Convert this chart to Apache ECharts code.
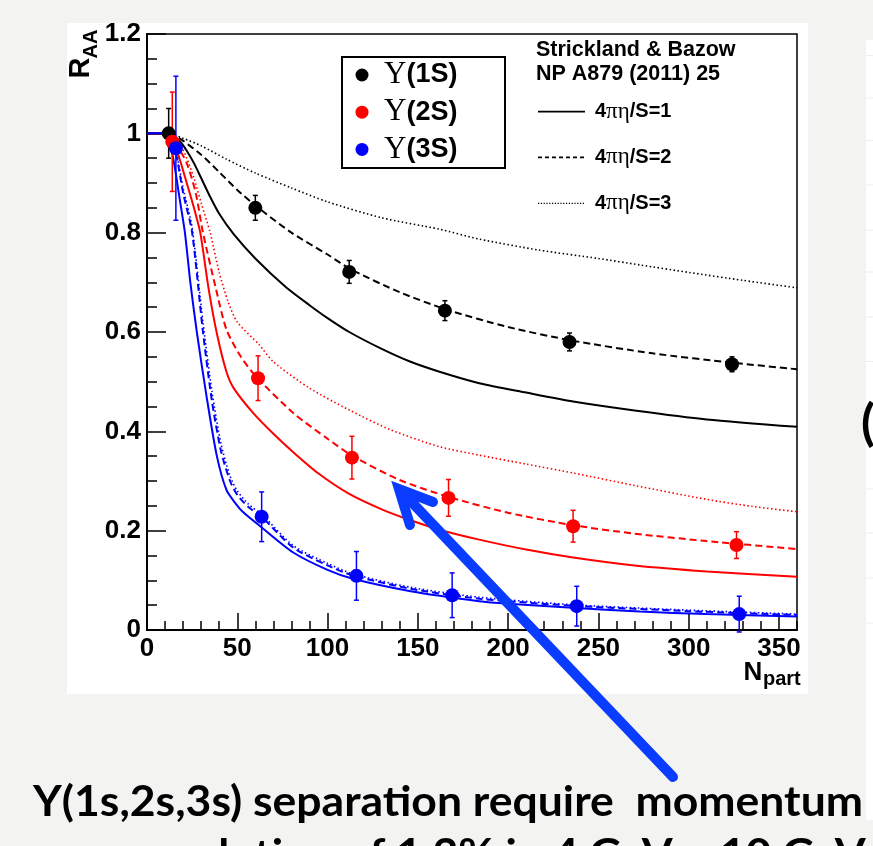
<!DOCTYPE html>
<html><head><meta charset="utf-8">
<script src="https://cdn.jsdelivr.net/npm/echarts/dist/echarts.min.js"></script>
<style>html,body{margin:0;padding:0;background:#f3f3f1}#c{width:873px;height:846px}</style>
</head><body><div id="c"></div><script>
// ---- data ----
const npart1S = [12, 60, 112, 165, 234, 324];
const raa1S   = [1.0, 0.85, 0.721, 0.643, 0.58, 0.535];
const err1S   = [0.05, 0.025, 0.023, 0.02, 0.018, 0.015];
const npart2S = [14, 61.5, 113.5, 167, 236, 326.5];
const raa2S   = [0.983, 0.507, 0.347, 0.266, 0.209, 0.171];
const err2S   = [0.10, 0.045, 0.043, 0.037, 0.032, 0.027];
const npart3S = [16, 63.5, 116, 169, 238, 328];
const raa3S   = [0.97, 0.228, 0.109, 0.07, 0.048, 0.032];
const err3S   = [0.145, 0.05, 0.049, 0.045, 0.04, 0.036];

// theory curves [Npart, RAA], 4πη/S = 1, 2, 3
const th1S_1 = [[0,1],[10,1],[14,0.996],[18,0.985],[22,0.965],[26,0.94],[30,0.91],[35,0.872],[40,0.838],[48,0.797],[60,0.748],[77,0.69],[90,0.654],[100,0.628],[112,0.6],[130,0.566],[146,0.54],[162,0.52],[184,0.497],[210,0.478],[236,0.46],[270,0.442],[310,0.424],[360,0.409]];
const th1S_2 = [[0,1],[12,1],[16,0.995],[20,0.985],[30,0.957],[40,0.922],[50,0.886],[61,0.852],[80,0.8],[100,0.756],[113,0.726],[140,0.68],[166,0.645],[200,0.61],[235,0.583],[280,0.557],[325,0.538],[360,0.525]];
const th1S_3 = [[0,1],[12,1],[20,0.99],[30,0.975],[44,0.948],[60,0.92],[80,0.89],[100,0.862],[130,0.83],[162,0.807],[184,0.787],[217,0.765],[250,0.748],[273,0.735],[300,0.72],[330,0.704],[360,0.689]];
const th2S_1 = [[0,1],[10,1],[13,0.99],[17,0.96],[22,0.9],[26,0.85],[29.5,0.8],[34,0.69],[38.7,0.597],[44,0.52],[48,0.487],[59,0.436],[70,0.395],[81,0.358],[95,0.315],[112,0.274],[130,0.243],[146,0.221],[162,0.202],[184,0.182],[210,0.162],[236,0.146],[270,0.13],[310,0.118],[360,0.107]];
const th2S_2 = [[0,1],[12,1],[16,0.98],[22,0.94],[27,0.88],[31,0.8],[38,0.69],[44,0.605],[52,0.55],[61,0.508],[81,0.437],[100,0.385],[114,0.35],[140,0.302],[167,0.268],[200,0.236],[236,0.211],[270,0.194],[310,0.179],[360,0.163]];
const th2S_3 = [[0,1],[12,1],[18,0.98],[22,0.95],[26,0.91],[30,0.86],[35,0.8],[40,0.72],[45,0.66],[50,0.62],[62,0.575],[70,0.54],[90,0.487],[112,0.443],[135,0.403],[162,0.369],[184,0.352],[210,0.334],[236,0.316],[270,0.291],[310,0.263],[335,0.249],[360,0.238]];
const th3S_1 = [[0,1],[10,1],[12,0.99],[15,0.94],[18,0.87],[21,0.8],[24,0.7],[27.6,0.6],[33,0.47],[38.7,0.35],[44,0.282],[49,0.255],[53,0.238],[63,0.208],[81,0.156],[100,0.121],[114,0.103],[146,0.078],[184,0.058],[200,0.053],[240,0.044],[273,0.037],[310,0.032],[360,0.027]];
const th3S_2 = [[0,1],[12,1],[16,0.96],[20,0.88],[25,0.8],[31,0.6],[36,0.46],[41,0.36],[46,0.3],[50,0.272],[56,0.248],[64,0.226],[81,0.166],[100,0.13],[114,0.11],[146,0.083],[184,0.063],[240,0.048],[300,0.038],[360,0.03]];
const th3S_3 = [[0,1],[12,1],[16,0.965],[20,0.89],[25,0.81],[31,0.62],[36,0.48],[41,0.375],[46,0.31],[50,0.28],[56,0.254],[64,0.231],[81,0.17],[100,0.134],[114,0.113],[146,0.086],[184,0.066],[240,0.05],[300,0.04],[360,0.032]];

const xTicks = [0, 50, 100, 150, 200, 250, 300, 350];
const legendStates = ['Υ(1S)', 'Υ(2S)', 'Υ(3S)'];
const legendModels = ['4πη/S=1', '4πη/S=2', '4πη/S=3'];
const caption1 = 'Y(1s,2s,3s) separation require  momentum';
const caption2a = 'resolution of 1.3% in 4 GeV ~ ';
const caption2b = '10 GeV';

// ---- chart ----
const chart = echarts.init(document.getElementById('c'), null, {renderer: 'canvas'});
const BLACK = '#000', RED = '#ff0000', BLUE = '#0000ff';
const SOLID = 'solid', DASH = [7, 4], DOT = [1.5, 2.5];

function curve(data, color, type) {
  return {type: 'line', data: data, symbol: 'none', smooth: 0.25, silent: true,
    lineStyle: {color: color, width: type === DOT ? 1.6 : 2, type: type}, z: 3, animation: false};
}
function points(xs, ys, color) {
  return {type: 'scatter', data: xs.map((x, i) => [x, ys[i]]), symbol: 'circle', symbolSize: 14,
    itemStyle: {color: color, opacity: 1}, z: 6, animation: false, silent: true};
}
function errbars(xs, ys, es, color) {
  return {type: 'custom', data: xs.map((x, i) => [x, ys[i], es[i]]), z: 5, clip: false, silent: true, animation: false,
    encode: {x: 0, y: 1},
    renderItem: function (params, api) {
      const x = api.value(0), y = api.value(1), e = api.value(2);
      const a = api.coord([x, y + e]), b = api.coord([x, y - e]);
      const w = 2.5, st = {stroke: color, lineWidth: 1.5};
      return {type: 'group', children: [
        {type: 'line', shape: {x1: a[0], y1: a[1], x2: b[0], y2: b[1]}, style: st},
        {type: 'line', shape: {x1: a[0] - w, y1: a[1], x2: a[0] + w, y2: a[1]}, style: st},
        {type: 'line', shape: {x1: b[0] - w, y1: b[1], x2: b[0] + w, y2: b[1]}, style: st}
      ]};
    }};
}

const measureCtx = document.createElement('canvas').getContext('2d');
function textWidth(text, font) { measureCtx.font = font; return measureCtx.measureText(text).width; }
const capFont = 'bold 42px Lato';
const capScale = 830 / textWidth(caption1, capFont);
const cap2x = 720 - capScale * textWidth(caption2a, capFont);

const tickLabel = {color: '#000', fontSize: 26, fontWeight: 'bold', fontFamily: 'Liberation Sans'};

const legendDotColors = [BLACK, RED, BLUE];
const graphic = [
  {type: 'rect', shape: {x: 67, y: 23, width: 741, height: 671}, style: {fill: '#fff'}, z: -10},
  {type: 'rect', shape: {x: 866, y: 40, width: 20, height: 780}, style: {fill: '#fff'}, z: -10},
  // legend box
  {type: 'rect', shape: {x: 342, y: 57, width: 163, height: 111}, style: {fill: '#fff', stroke: '#000', lineWidth: 2}, z: 20},
  {type: 'text', x: 536, y: 50.5, z: 21, style: {text: 'Strickland & Bazow', fontFamily: 'Liberation Sans', fontWeight: 'bold', fontSize: 21.5, fill: '#000', verticalAlign: 'middle'}},
  {type: 'text', x: 536, y: 74, z: 21, style: {text: 'NP A879 (2011) 25', fontFamily: 'Liberation Sans', fontWeight: 'bold', fontSize: 21.5, fill: '#000', verticalAlign: 'middle'}},
  // axis titles
  {type: 'text', x: 81, y: 68, rotation: Math.PI / 2, z: 21, style: {text: 'R', fontFamily: 'Liberation Sans', fontWeight: 'bold', fontSize: 29, fill: '#000', align: 'center', verticalAlign: 'middle'}},
  {type: 'text', x: 91, y: 44, rotation: Math.PI / 2, z: 21, style: {text: 'AA', fontFamily: 'Liberation Sans', fontWeight: 'bold', fontSize: 20, fill: '#000', align: 'center', verticalAlign: 'middle'}},
  {type: 'text', x: 753, y: 672.5, z: 21, style: {text: 'N', fontFamily: 'Liberation Sans', fontWeight: 'bold', fontSize: 26, fill: '#000', align: 'center', verticalAlign: 'middle'}},
  {type: 'text', x: 763, y: 679, z: 21, style: {text: 'part', fontFamily: 'Liberation Sans', fontWeight: 'bold', fontSize: 20, fill: '#000', verticalAlign: 'middle'}},
  // slide parts
  {type: 'text', x: 861, y: 424, z: 21, style: {text: '(', fontFamily: 'Lato', fontWeight: 'bold', fontSize: 50, fill: '#000', verticalAlign: 'middle'}},
  {type: 'text', x: 33, y: 802, scaleX: capScale, z: 21, style: {text: caption1, font: capFont, fill: '#000', verticalAlign: 'middle'}},
  {type: 'text', x: cap2x, y: 855.5, scaleX: capScale, z: 21, style: {text: caption2a + caption2b, font: capFont, fill: '#000', verticalAlign: 'middle'}},
  // arrow
  {type: 'polyline', z: 30, shape: {points: [[673, 777], [403, 493]]}, style: {stroke: '#0a3cff', lineWidth: 10, lineCap: 'round'}},
  {type: 'polyline', z: 30, shape: {points: [[433, 502], [399, 489], [410, 525]]}, style: {stroke: '#0a3cff', lineWidth: 10, lineCap: 'round', lineJoin: 'miter', fill: null}}
];
[55.7, 98, 140.5, 185, 230, 272, 317, 361.5, 489, 533, 578, 623].forEach(y => {
  graphic.push({type: 'line', z: -9, shape: {x1: 866, y1: y, x2: 873, y2: y}, style: {stroke: '#ececec', lineWidth: 1}});
});
legendStates.forEach((s, i) => {
  const y = 75 + i * 37.2;
  graphic.push({type: 'circle', z: 21, shape: {cx: 362, cy: y, r: 6.5}, style: {fill: legendDotColors[i]}});
  graphic.push({type: 'text', x: 384, y: y, z: 21, style: {text: '{u|' + s.slice(0, 1) + '}{t|' + s.slice(1) + '}', verticalAlign: 'middle',
    rich: {u: {fontFamily: 'Liberation Serif', fontSize: 31, fill: '#000'}, t: {fontFamily: 'Liberation Sans', fontWeight: 'bold', fontSize: 27, fill: '#000'}}}});
});
legendModels.forEach((s, i) => {
  const y = [111.7, 157.3, 203.3][i];
  graphic.push({type: 'line', z: 21, shape: {x1: 538, y1: y, x2: 585, y2: y}, style: {stroke: '#000', lineWidth: i === 2 ? 1.3 : 1.8, lineDash: i === 0 ? null : (i === 1 ? [4, 3] : [1.2, 1.6])}});
  graphic.push({type: 'text', x: 595, y: y, z: 21, style: {text: '{n|' + s.slice(0, 1) + '}{g|' + s.slice(1, 3) + '}{n|' + s.slice(3) + '}', verticalAlign: 'middle',
    rich: {n: {fontFamily: 'Liberation Sans', fontWeight: 'bold', fontSize: 20, fill: '#000'}, g: {fontFamily: 'Liberation Serif', fontSize: 23, fill: '#000'}}}});
});

const option = {
  backgroundColor: '#f3f3f1',
  animation: false,
  textStyle: {fontFamily: 'Liberation Sans'},
  grid: {left: 147, top: 34, width: 650, height: 596, show: true, borderColor: '#000', borderWidth: 1.5, backgroundColor: '#fff', containLabel: false},
  xAxis: [
    {type: 'value', min: 0, max: 360, interval: 50, position: 'bottom',
      axisLine: {show: true, onZero: false, lineStyle: {color: '#000', width: 2}},
      axisTick: {show: true, inside: true, length: 17, lineStyle: {color: '#000', width: 1.5}},
      axisLabel: Object.assign({showMaxLabel: false, margin: 6, formatter: v => xTicks.indexOf(v) >= 0 ? String(v) : ''}, tickLabel),
      splitLine: {show: false}},
    {type: 'value', min: 0, max: 360, interval: 10, position: 'bottom',
      axisLine: {show: false}, axisLabel: {show: false}, splitLine: {show: false},
      axisTick: {show: true, inside: true, length: 9, lineStyle: {color: '#000', width: 1.5}}}
  ],
  yAxis: {type: 'value', min: 0, max: 1.2, interval: 0.2,
    axisLine: {show: true, onZero: false, lineStyle: {color: '#000', width: 2}},
    axisTick: {show: true, inside: true, length: 19, lineStyle: {color: '#000', width: 1.5}},
    minorTick: {show: true, splitNumber: 4, length: 10, lineStyle: {color: '#000', width: 1.5}},
    axisLabel: Object.assign({margin: 6}, tickLabel),
    splitLine: {show: false}, minorSplitLine: {show: false}},
  graphic: graphic,
  series: [
    curve(th1S_3, BLACK, DOT), curve(th1S_2, BLACK, DASH), curve(th1S_1, BLACK, SOLID),
    curve(th2S_3, RED, DOT), curve(th2S_2, RED, DASH), curve(th2S_1, RED, SOLID),
    curve(th3S_3, BLUE, DOT), curve(th3S_2, BLUE, DASH), curve(th3S_1, BLUE, SOLID),
    errbars(npart1S, raa1S, err1S, BLACK), errbars(npart2S, raa2S, err2S, RED), errbars(npart3S, raa3S, err3S, BLUE),
    points(npart1S, raa1S, BLACK), points(npart2S, raa2S, RED), points(npart3S, raa3S, BLUE)
  ]
};
chart.setOption(option);
</script></body></html>
